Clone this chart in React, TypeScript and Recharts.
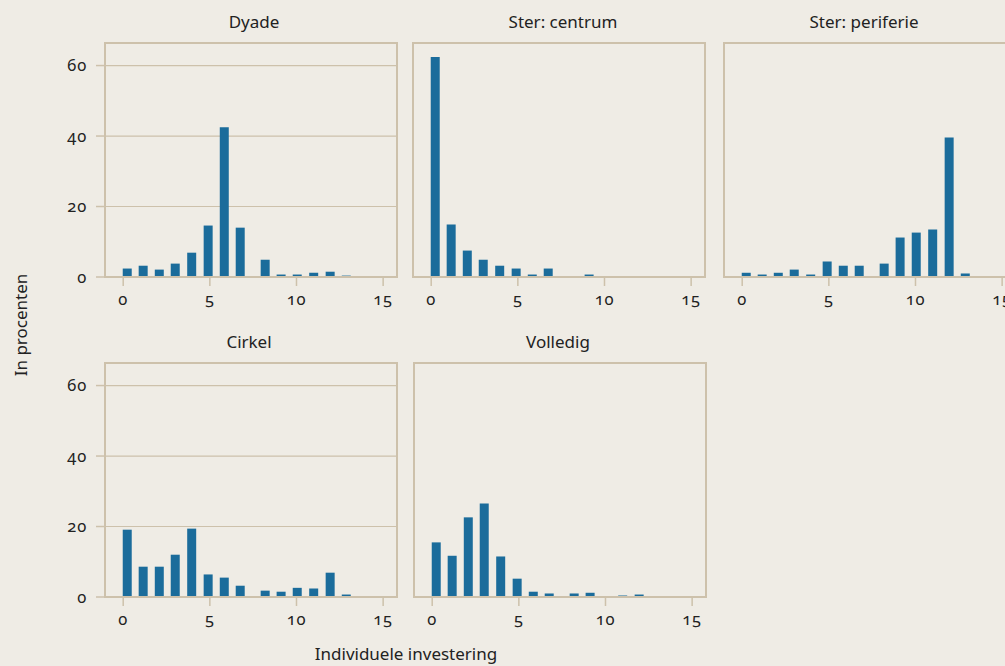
import { BarChart, Bar, XAxis, YAxis, CartesianGrid, ReferenceArea } from "recharts";

// bin centres along "Individuele investering"
const binCenters = [0.26, 1.18, 2.11, 3.03, 3.98, 4.93, 5.86, 6.78, 8.22, 9.14, 10.07, 11.02, 11.97, 12.9];

// percentages per bin
const dyade = [2.4, 3.2, 2.1, 3.8, 6.9, 14.6, 42.5, 14.0, 4.9, 0.7, 0.7, 1.2, 1.5, 0.4];
const sterCentrum = [62.4, 14.9, 7.5, 4.9, 3.2, 2.4, 0.7, 2.4, 0, 0.7, 0, 0, 0, 0];
const sterPeriferie = [1.2, 0.7, 1.2, 2.1, 0.7, 4.4, 3.2, 3.2, 3.8, 11.2, 12.6, 13.5, 39.6, 1.0];
const cirkel = [19.1, 8.6, 8.6, 12.0, 19.4, 6.4, 5.5, 3.2, 1.8, 1.5, 2.6, 2.4, 6.9, 0.7];
const volledig = [15.5, 11.7, 22.6, 26.5, 11.5, 5.2, 1.5, 1.0, 1.0, 1.2, 0, 0.4, 0.7, 0];

const xTicks = [0, 5, 10, 15];
const yTicks = [0, 20, 40, 60];

const BG = "#efece5";
const LINE = "#cdc1ab";
const BAR = "#1b6c9b";
const TEXT = "#222222";

const PLOT_W = 292;
const PLOT_H = 234;
const AXIS_W = 50;
const AXIS_H = 40;

const panels = [
  { title: "Dyade", values: dyade, left: 105, top: 42.5, titleX: 254, showY: true },
  { title: "Ster: centrum", values: sterCentrum, left: 413, top: 42.5, titleX: 563, showY: false },
  { title: "Ster: periferie", values: sterPeriferie, left: 724, top: 42.5, titleX: 864, showY: false },
  { title: "Cirkel", values: cirkel, left: 105, top: 362.5, titleX: 249, showY: true },
  { title: "Volledig", values: volledig, left: 414, top: 362.5, titleX: 558, showY: false },
];

const tickStyle = { fontSize: 16.5, fill: TEXT, letterSpacing: 0.8 };

function Panel({ p }: { p: (typeof panels)[number] }) {
  const data = binCenters.map((x, i) => ({ x, y: p.values[i] }));
  return (
    <>
      <div
        style={{
          position: "absolute",
          left: p.titleX - 100,
          width: 200,
          top: p.top - 33,
          textAlign: "center",
          fontSize: 17,
          color: TEXT,
        }}
      >
        {p.title}
      </div>
      <div style={{ position: "absolute", left: p.left - AXIS_W, top: p.top - 2 }}>
        <BarChart
          width={AXIS_W + PLOT_W + 4}
          height={PLOT_H + AXIS_H + 2}
          data={data}
          margin={{ top: 2, right: 4, left: 0, bottom: 0 }}
        >
          <CartesianGrid horizontal vertical={false} stroke={LINE} strokeWidth={1.2} />
          <XAxis
            type="number"
            dataKey="x"
            domain={[-1.05, 15.8]}
            allowDataOverflow
            ticks={xTicks}
            height={AXIS_H}
            tickSize={9}
            tickMargin={7}
            axisLine={{ stroke: LINE, strokeWidth: 2 }}
            tickLine={{ stroke: LINE, strokeWidth: 1.5 }}
            tick={tickStyle}
          />
          <YAxis
            type="number"
            domain={[0, 66.4]}
            allowDataOverflow
            ticks={yTicks}
            width={AXIS_W}
            tickSize={9}
            tickMargin={9}
            axisLine={false}
            tickLine={p.showY ? { stroke: LINE, strokeWidth: 1.5 } : false}
            tick={p.showY ? tickStyle : false}
          />
          <ReferenceArea
            x1={-1.05}
            x2={15.8}
            y1={0}
            y2={66.4}
            fill="none"
            stroke={LINE}
            strokeWidth={2}
          />
          <Bar dataKey="y" fill={BAR} barSize={9} isAnimationActive={false} />
        </BarChart>
      </div>
    </>
  );
}

export default function App() {
  return (
    <div
      style={{
        position: "absolute",
        left: 0,
        top: 0,
        width: 1005,
        height: 666,
        overflow: "hidden",
        background: BG,
        fontFamily: "'Noto Sans', 'Open Sans', sans-serif",
        fontFeatureSettings: '"onum" 1',
        fontVariantNumeric: "oldstyle-nums",
        color: TEXT,
      }}
    >
      {panels.map((p) => (
        <Panel key={p.title} p={p} />
      ))}
      <div
        style={{
          position: "absolute",
          left: 20,
          top: 325,
          transform: "translate(-50%, -50%) rotate(-90deg)",
          whiteSpace: "nowrap",
          fontSize: 17,
        }}
      >
        In procenten
      </div>
      <div
        style={{
          position: "absolute",
          left: 256,
          width: 300,
          top: 642,
          textAlign: "center",
          fontSize: 17,
        }}
      >
        Individuele investering
      </div>
    </div>
  );
}
